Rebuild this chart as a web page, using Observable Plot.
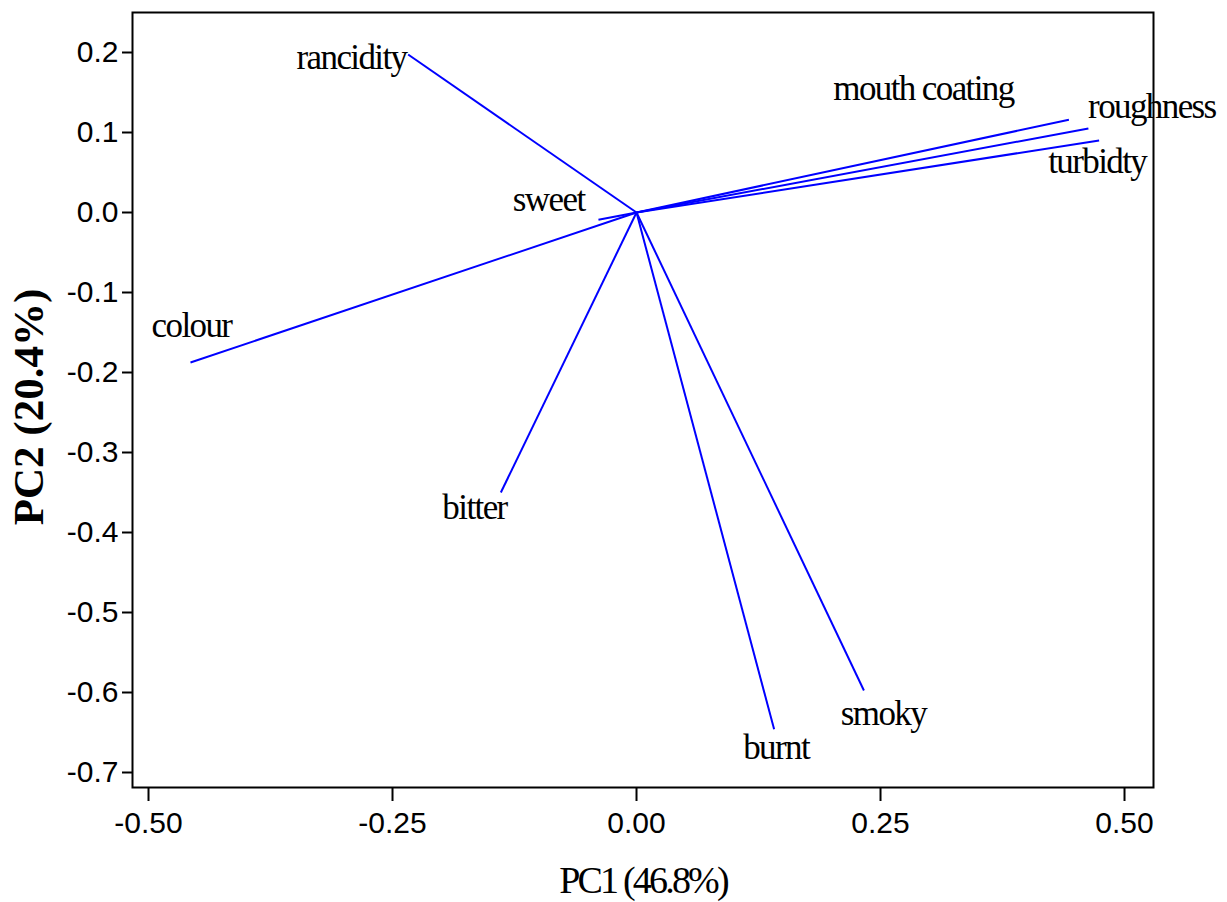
<!DOCTYPE html>
<html>
<head>
<meta charset="utf-8">
<script src="https://cdn.jsdelivr.net/npm/d3@7"></script>
<script src="https://cdn.jsdelivr.net/npm/@observablehq/plot@0.6"></script>
<style>
  html, body { margin: 0; padding: 0; background: #fff; }
</style>
</head>
<body>
<div id="chart"></div>
<script>
// Loading vectors (PC1, PC2)
const variables = ["rancidity", "mouth coating", "roughness", "turbidty", "sweet", "colour", "bitter", "burnt", "smoky"];
const pc1 = [-0.234, 0.443, 0.463, 0.474, -0.039, -0.457, -0.139, 0.141, 0.233];
const pc2 = [0.1975, 0.116, 0.105, 0.09, -0.009, -0.1875, -0.35, -0.646, -0.5975];
// Label anchor positions (data units)
const labelX = [-0.292, 0.294, 0.528, 0.472, -0.090, -0.456, -0.166, 0.143, 0.253];
const labelY = [0.194, 0.155, 0.1325, 0.064, 0.016, -0.141, -0.369, -0.669, -0.626];
const xTicks = [-0.5, -0.25, 0, 0.25, 0.5];
const yTicks = [0.2, 0.1, 0.0, -0.1, -0.2, -0.3, -0.4, -0.5, -0.6, -0.7];
const xLabel = "PC1 (46.8%)";
const yLabel = "PC2 (20.4%)";

const vectors = variables.map((name, i) => ({name, x: pc1[i], y: pc2[i], lx: labelX[i], ly: labelY[i]}));

const chart = Plot.plot({
  width: 1227,
  height: 902,
  marginLeft: 132,
  marginRight: 74,
  marginTop: 12,
  marginBottom: 115,
  style: {background: "#fff", color: "#000", overflow: "visible"},
  x: {domain: [-0.5164, 0.5297]},
  y: {domain: [-0.71875, 0.25]},
  marks: [
    Plot.frame({stroke: "#000", strokeWidth: 2}),
    Plot.axisX({
      ticks: xTicks, tickSize: 14, tickPadding: 10, tickFormat: d => d.toFixed(2),
      fontSize: 30, fontFamily: "Liberation Sans", strokeWidth: 2, label: null
    }),
    Plot.axisY({
      ticks: yTicks, tickSize: 10, tickPadding: 4, tickFormat: d => d.toFixed(1),
      fontSize: 30, fontFamily: "Liberation Sans", strokeWidth: 2, label: null
    }),
    Plot.link(vectors, {x1: 0, y1: 0, x2: "x", y2: "y", stroke: "#0000ff", strokeWidth: 2}),
    Plot.text(vectors, {
      x: "lx", y: "ly", text: "name", fontSize: 35, fontFamily: "Liberation Serif",
      fill: "#000", textAnchor: "middle", lineAnchor: "middle"
    }),
    Plot.text([xLabel], {
      frameAnchor: "bottom", dy: 93, text: d => d, fontSize: 38, textAnchor: "middle",
      fontFamily: "Liberation Serif", fill: "#000", lineAnchor: "middle"
    }),
    Plot.text([yLabel], {
      frameAnchor: "left", dx: -103, dy: 7, rotate: -90, text: d => d, fontSize: 43,
      textAnchor: "middle", fontFamily: "Liberation Serif", fontWeight: "bold",
      fill: "#000", lineAnchor: "middle"
    })
  ]
});
const svg = d3.select(chart);
svg.selectAll("text").filter(function() { return variables.includes(this.textContent); })
  .style("letter-spacing", "-1.6px");
svg.selectAll("text").filter(function() { return this.textContent === xLabel; })
  .style("letter-spacing", "-2.8px");
document.getElementById("chart").appendChild(chart);
</script>
</body>
</html>
